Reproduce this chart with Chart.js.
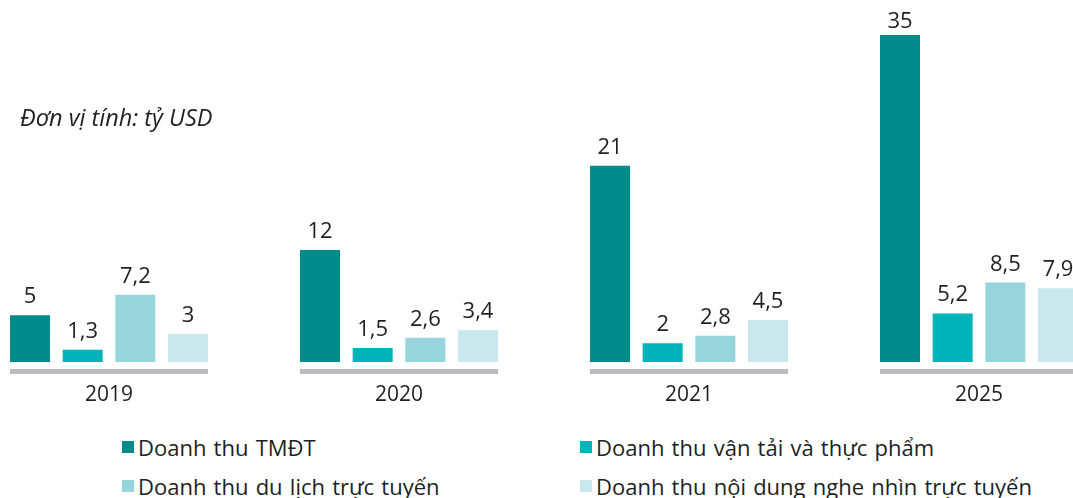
<!DOCTYPE html>
<html>
<head>
<meta charset="utf-8">
<script src="https://cdn.jsdelivr.net/npm/chart.js@4.4.1/dist/chart.umd.min.js"></script>
<style>
  html, body { margin:0; padding:0; width:1073px; height:498px; overflow:hidden; background:#fff; font-family:"Open Sans", sans-serif; color:#231F20; }
  #wrap { position:absolute; left:-36px; top:0; width:1160px; height:421px; }
  #unit { position:absolute; left:20px; top:101px; font-size:23.5px; font-style:italic; color:#231F20; white-space:nowrap; }
  .leg { position:absolute; font-size:22px; white-space:nowrap; line-height:24px; word-spacing:1.5px; }
  .leg span.sw { position:absolute; left:0; top:6px; width:12px; height:12px; }
  .leg span.tx { position:absolute; left:16px; top:0; }
</style>
</head>
<body>
<div id="wrap"><canvas id="c" width="1160" height="421"></canvas></div>
<div id="unit">Đơn vị tính: tỷ USD</div>
<div id="legend"></div>
<script>
const years = ["2019", "2020", "2021", "2025"];
const seriesNames = ["Doanh thu TMĐT", "Doanh thu vận tải và thực phẩm", "Doanh thu du lịch trực tuyến", "Doanh thu nội dung nghe nhìn trực tuyến"];
const ecommerce = [5, 12, 21, 35];
const transportFood = [1.3, 1.5, 2, 5.2];
const travel = [7.2, 2.6, 2.8, 8.5];
const media = [3, 3.4, 4.5, 7.9];
const colors = ["#008B8B", "#00B4BA", "#96D5DC", "#C8E8EE"];
const allSeries = [ecommerce, transportFood, travel, media];

const legendPos = [[122, 435], [580, 435], [122, 474], [580, 474]];
const legEl = document.getElementById('legend');
seriesNames.forEach((n, i) => {
  const d = document.createElement('div');
  d.className = 'leg';
  d.style.left = legendPos[i][0] + 'px';
  d.style.top = legendPos[i][1] + 'px';
  d.innerHTML = '<span class="sw" style="background:' + colors[i] + '"></span><span class="tx"></span>';
  d.querySelector('.tx').textContent = n;
  legEl.appendChild(d);
});

const fmt = v => String(v).replace('.', ',');

const groupLines = {
  id: 'groupLines',
  afterDatasetsDraw(chart) {
    const ctx = chart.ctx;
    const first = chart.getDatasetMeta(0).data;
    const last = chart.getDatasetMeta(chart.data.datasets.length - 1).data;
    ctx.save();
    ctx.fillStyle = '#BABABF';
    first.forEach((b, i) => {
      const l = b.x - b.width / 2;
      const r = last[i].x + last[i].width / 2;
      ctx.fillRect(l, chart.chartArea.bottom + 7, r - l, 5);
    });
    ctx.restore();
  }
};

const valueLabels = {
  id: 'valueLabels',
  afterDatasetsDraw(chart) {
    const ctx = chart.ctx;
    ctx.save();
    ctx.font = '22px "Open Sans"';
    ctx.fillStyle = '#231F20';
    ctx.textAlign = 'center';
    ctx.textBaseline = 'alphabetic';
    chart.data.datasets.forEach((ds, di) => {
      chart.getDatasetMeta(di).data.forEach((b, i) => {
        ctx.fillText(fmt(ds.data[i]), b.x, Math.max(b.y - 12, 28));
      });
    });
    ctx.restore();
  }
};

new Chart(document.getElementById('c'), {
  type: 'bar',
  data: {
    labels: years,
    datasets: allSeries.map((d, i) => ({
      label: seriesNames[i],
      data: d,
      backgroundColor: colors[i],
      categoryPercentage: 0.7264,
      barPercentage: 0.7595
    }))
  },
  options: {
    responsive: false,
    animation: false,
    devicePixelRatio: 1,
    layout: { padding: { top: 35, bottom: 0, left: 0, right: 0 } },
    plugins: { legend: { display: false }, tooltip: { enabled: false } },
    scales: {
      y: { display: false, min: 0, max: 35 },
      x: {
        grid: { display: false },
        border: { display: false },
        ticks: { color: '#231F20', padding: 15, font: { family: 'Open Sans', size: 21, lineHeight: 1 } }
      }
    }
  },
  plugins: [groupLines, valueLabels]
});
</script>
</body>
</html>
